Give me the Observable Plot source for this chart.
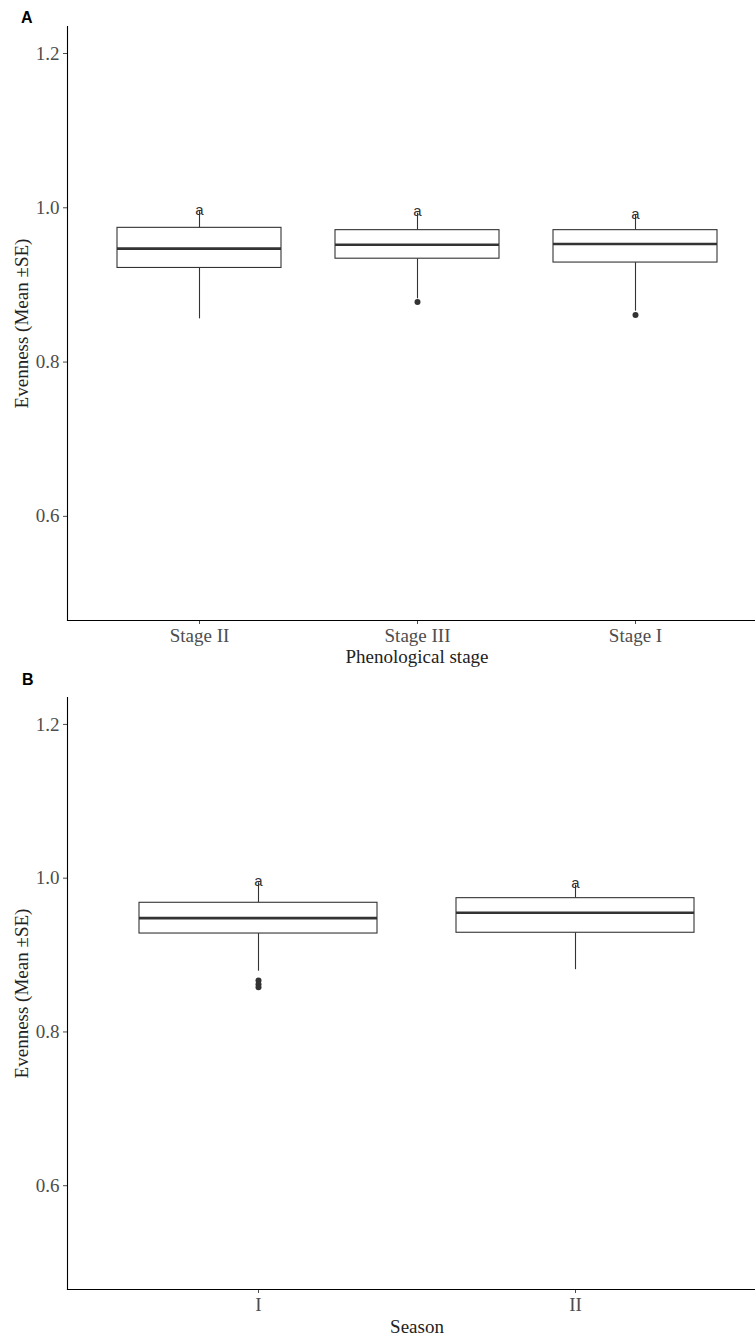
<!DOCTYPE html>
<html><head><meta charset="utf-8">
<script src="https://cdn.jsdelivr.net/npm/d3@7"></script>
<script src="https://cdn.jsdelivr.net/npm/@observablehq/plot@0.6"></script>
<style>
body{margin:0;background:#fff;width:755px;overflow:hidden;}
.panel{position:relative;width:755px;overflow:hidden;}
.letter{position:absolute;z-index:2;font:bold 16px "Liberation Sans",Arial,sans-serif;line-height:16px;color:#000;}
</style></head><body>
<div id="pa" class="panel"><div class="letter" style="left:21px;top:10px">A</div></div>
<div id="pb" class="panel"><div class="letter" style="left:22px;top:4px">B</div></div>
<script>
// Panel A: phenological stage
const stageCats = ["Stage II", "Stage III", "Stage I"];
const stageQ1 = [0.922, 0.934, 0.929];
const stageMedian = [0.947, 0.952, 0.953];
const stageQ3 = [0.974, 0.971, 0.971];
const stageLow = [0.856, 0.882, 0.866];
const stageHigh = [0.995, 0.993, 0.990];
const stageSig = ["a", "a", "a"];
const stageOutCat = ["Stage III", "Stage I"];
const stageOutVal = [0.878, 0.861];

// Panel B: season
const seasonCats = ["I", "II"];
const seasonQ1 = [0.928, 0.929];
const seasonMedian = [0.948, 0.955];
const seasonQ3 = [0.968, 0.974];
const seasonLow = [0.879, 0.881];
const seasonHigh = [0.994, 0.991];
const seasonSig = ["a", "a"];
const seasonOutCat = ["I", "I", "I"];
const seasonOutVal = [0.867, 0.862, 0.858];

const yTicks = [0.6, 0.8, 1.0, 1.2];
const yDomain = [0.465, 1.235];
const yLabel = "Evenness (Mean \u00B1SE)";

function panel(cats, q1, med, q3, lo, hi, sig, outCat, outVal, xLabel, height, mt, mb, xLabelOffset) {
  const rows = cats.map((c, i) => ({cat: c, q1: q1[i], med: med[i], q3: q3[i], lo: lo[i], hi: hi[i], sig: sig[i]}));
  const outs = outCat.map((c, i) => ({cat: c, v: outVal[i]}));
  const serif = '"Liberation Serif", "Times New Roman", serif';
  return Plot.plot({
    width: 755, height, marginTop: mt, marginBottom: mb, marginLeft: 67, marginRight: -11,
    style: {fontFamily: serif, fontSize: "19px", background: "white"},
    x: {type: "band", domain: cats, paddingInner: 0.25, paddingOuter: 0.225},
    y: {domain: yDomain},
    marks: [
      Plot.ruleX(rows, {x: "cat", y1: "lo", y2: "q1", stroke: "#333", strokeWidth: 1.1}),
      Plot.ruleX(rows, {x: "cat", y1: "q3", y2: "hi", stroke: "#333", strokeWidth: 1.1}),
      Plot.barY(rows, {x: "cat", y1: "q1", y2: "q3", fill: "white", stroke: "#333", strokeWidth: 1.1}),
      Plot.tickY(rows, {x: "cat", y: "med", stroke: "#333", strokeWidth: 2.6}),
      Plot.dot(outs, {x: "cat", y: "v", r: 3, fill: "#333", stroke: "none"}),
      Plot.text(rows, {x: "cat", y: "hi", text: "sig", lineAnchor: "bottom", dy: 3, fontFamily: '"Liberation Sans", Arial, sans-serif', fontSize: 15, fill: "#333"}),
      Plot.axisY({ticks: yTicks, tickFormat: d3.format(".1f"), tickSize: 4, tickPadding: 4, label: null, color: "#4d4d4d", fontSize: 19}),
      Plot.axisY({ticks: [], label: yLabel, labelAnchor: "center", labelOffset: 53, labelArrow: "none", color: "#222", fontSize: 19}),
      Plot.axisX({tickSize: 4, tickPadding: 4, label: null, color: "#4d4d4d", fontSize: 19}),
      Plot.axisX({ticks: [], label: xLabel, labelAnchor: "center", labelOffset: xLabelOffset, labelArrow: "none", color: "#222", fontSize: 19}),
      Plot.frame({anchor: "left", stroke: "black", strokeWidth: 1.1}),
      Plot.frame({anchor: "bottom", stroke: "black", strokeWidth: 1.1})
    ]
  });
}

document.getElementById("pa").appendChild(
  panel(stageCats, stageQ1, stageMedian, stageQ3, stageLow, stageHigh, stageSig, stageOutCat, stageOutVal, "Phenological stage", 668, 26, 48, 42)
);
document.getElementById("pb").appendChild(
  panel(seasonCats, seasonQ1, seasonMedian, seasonQ3, seasonLow, seasonHigh, seasonSig, seasonOutCat, seasonOutVal, "Season", 667, 29, 46, 43)
);
</script>
</body></html>
